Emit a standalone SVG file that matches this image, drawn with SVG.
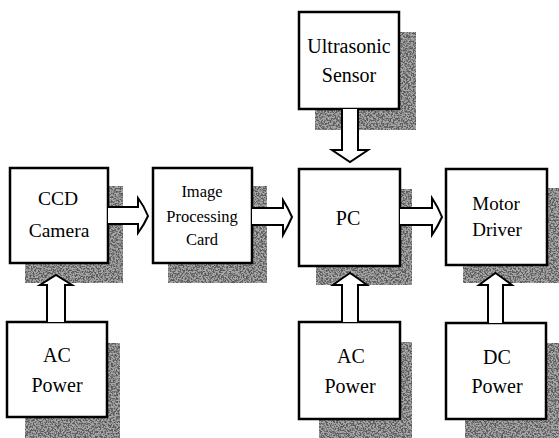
<svg xmlns="http://www.w3.org/2000/svg" width="559" height="438" viewBox="0 0 559 438">
<style>
.box{fill:#fff;stroke:#000;stroke-width:2.5}
.sh{fill:#a8a8a8}
.shn{fill:#000;filter:url(#grain)}
text{font-family:"Times New Roman","DejaVu Serif","Liberation Serif",serif;fill:#000;text-anchor:middle}
.arr{fill:#fff;stroke:#000;stroke-width:2;stroke-linejoin:miter}
</style>
<defs>
<filter id="grain" x="0" y="0" width="1" height="1" filterUnits="objectBoundingBox">
<feTurbulence type="fractalNoise" baseFrequency="0.6" numOctaves="2" seed="7" result="n"/>
<feColorMatrix in="n" type="matrix" values="0 0 0 0 0.1  0 0 0 0 0.1  0 0 0 0 0.1  5 0 0 0 -2.1"/>
<feComposite in2="SourceGraphic" operator="in"/>
</filter>
</defs>
<rect width="559" height="438" fill="#fff"/>

<g id="ccd-camera">
<rect class="sh" x="25" y="186" width="98" height="97"/>
<rect class="shn" x="25" y="186" width="98" height="97"/>
<rect class="box" x="10" y="168" width="98" height="95"/>
<text x="58" y="205" font-size="19.5">CCD</text>
<text x="59" y="237" font-size="19.5">Camera</text>
</g>

<g id="image-processing-card">
<rect class="sh" x="168" y="186" width="99" height="97"/>
<rect class="shn" x="168" y="186" width="99" height="97"/>
<rect class="box" x="153" y="168" width="99" height="95"/>
<text x="202" y="197" font-size="16.5">Image</text>
<text x="202" y="222" font-size="16.5">Processing</text>
<text x="202" y="245" font-size="16.5">Card</text>
</g>

<g id="ultrasonic-sensor">
<rect class="sh" x="315" y="32" width="101" height="98"/>
<rect class="shn" x="315" y="32" width="101" height="98"/>
<rect class="box" x="299" y="12" width="100" height="97"/>
<text x="349" y="53" font-size="20">Ultrasonic</text>
<text x="349" y="82" font-size="20">Sensor</text>
</g>

<g id="pc">
<rect class="sh" x="316" y="189" width="96" height="96"/>
<rect class="shn" x="316" y="189" width="96" height="96"/>
<rect class="box" x="299" y="169" width="101" height="97"/>
<text x="348" y="225" font-size="20">PC</text>
</g>

<g id="motor-driver">
<rect class="sh" x="463" y="188" width="96" height="95"/>
<rect class="shn" x="463" y="188" width="96" height="95"/>
<rect class="box" x="446" y="169" width="101" height="96"/>
<text x="496" y="210" font-size="19">Motor</text>
<text x="497" y="236" font-size="19">Driver</text>
</g>

<g id="ac-power-left">
<rect class="sh" x="25" y="343" width="95" height="95"/>
<rect class="shn" x="25" y="343" width="95" height="95"/>
<rect class="box" x="7" y="322" width="100" height="95"/>
<text x="57" y="362" font-size="20">AC</text>
<text x="57" y="392" font-size="20">Power</text>
</g>

<g id="ac-power-mid">
<rect class="sh" x="319" y="342" width="93" height="96"/>
<rect class="shn" x="319" y="342" width="93" height="96"/>
<rect class="box" x="299" y="322" width="101" height="97"/>
<text x="351" y="363" font-size="20">AC</text>
<text x="350" y="393" font-size="20">Power</text>
</g>

<g id="dc-power">
<rect class="sh" x="465" y="343" width="94" height="95"/>
<rect class="shn" x="465" y="343" width="94" height="95"/>
<rect class="box" x="446" y="323" width="100" height="96"/>
<text x="497" y="364" font-size="20">DC</text>
<text x="497" y="393" font-size="20">Power</text>
</g>

<g id="connectors">
<path class="arr" d="M108,207 H138 V198 Q144,206 148,216 Q144,225 138,233 V224 H108"/>
<path class="arr" d="M252,208 H283 V200 Q288,208 292,217 Q288,226 283,235 V225 H252"/>
<path class="arr" d="M400,208 H432 V198 Q438,207 442,217 Q438,226 432,235 V225 H400"/>
<path class="arr" d="M342,109 V150 H332 Q341,156 350,162 Q359,156 368,150 H358 V109"/>
<path class="arr" d="M47,322 V285 H40 Q48,280 56,275 Q64,280 72,285 H65 V322"/>
<path class="arr" d="M342,322 V285 H333 Q341,279 350,273 Q359,279 367,285 H358 V322"/>
<path class="arr" d="M488,323 V285 H479 Q487,279 495.5,273 Q504,279 512,285 H503 V323"/>
</g>
</svg>
